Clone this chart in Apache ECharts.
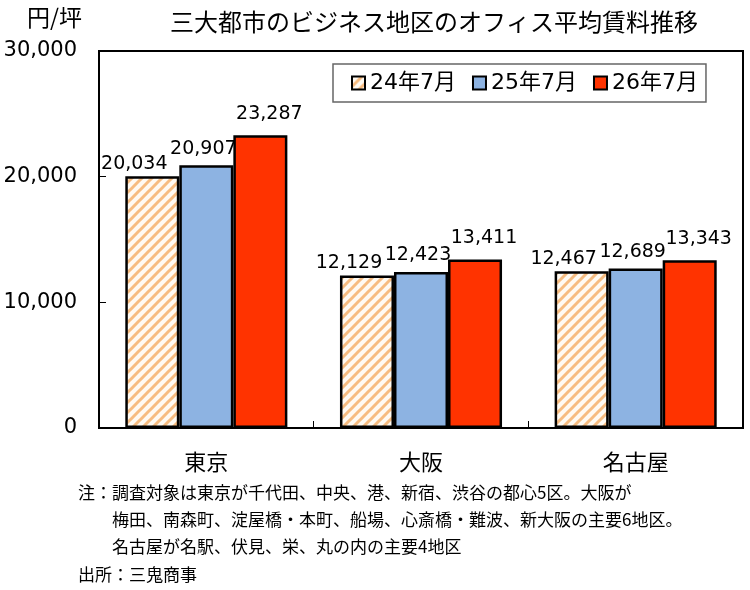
<!DOCTYPE html>
<html lang="ja">
<head>
<meta charset="UTF-8">
<title>三大都市のオフィス平均賃料</title>
<script src="https://cdn.jsdelivr.net/npm/echarts@6/dist/echarts.min.js"></script>
<style>
body {margin: 0; background: #fff;}
#main {width: 750px; height: 590px;}
</style>
</head>
<body>
<div id="main"></div>
<script>
// data
var cities = ['東京', '大阪', '名古屋'];
var periods = ['24年7月', '25年7月', '26年7月'];
var rent2407 = [20034, 12129, 12467];
var rent2507 = [20907, 12423, 12689];
var rent2607 = [23287, 13411, 13343];
var notes = [
    '注：調査対象は東京が千代田、中央、港、新宿、渋谷の都心5区。大阪が',
    '梅田、南森町、淀屋橋・本町、船場、心斎橋・難波、新大阪の主要6地区。',
    '名古屋が名駅、伏見、栄、丸の内の主要4地区',
    '出所：三鬼商事'
];

var FONT = '"DejaVu Sans", "Noto Sans CJK JP", sans-serif';
var CJK = '"Noto Sans CJK JP", sans-serif';

// hatched fill for the first series
var tile = document.createElement('canvas');
tile.width = 10; tile.height = 10;
var g = tile.getContext('2d');
g.fillStyle = '#fffaf2';
g.fillRect(0, 0, 10, 10);
g.strokeStyle = '#f7bc80';
g.lineWidth = 3;
[[0, 10, 10, 0], [-2, 2, 2, -2], [8, 12, 12, 8]].forEach(function (l) {
    g.beginPath(); g.moveTo(l[0], l[1]); g.lineTo(l[2], l[3]); g.stroke();
});
var hatch = {image: tile, repeat: 'repeat'};

var chart = echarts.init(document.getElementById('main'));

function barSeries(name, data, fill, dx, dist) {
    return {
        name: name,
        type: 'bar',
        data: data,
        barGap: 0,
        barCategoryGap: '24.5%',
        animation: false,
        itemStyle: {color: fill, borderColor: '#000', borderWidth: 2.5},
        label: {
            show: true,
            position: 'top',
            distance: dist,
            offset: [dx, 0],
            fontFamily: FONT,
            fontSize: 19,
            color: '#000',
            formatter: function (p) { return p.value.toLocaleString('en-US'); }
        }
    };
}

chart.setOption({
    animation: false,
    title: {
        text: '三大都市のビジネス地区のオフィス平均賃料推移',
        left: 165,
        top: 5,
        textStyle: {fontFamily: CJK, fontSize: 24, fontWeight: 'normal', color: '#000'}
    },
    graphic: [
        {type: 'text', left: 27, top: 6, style: {text: '円/坪', font: '23px ' + CJK, fill: '#000'}},
        {type: 'text', left: 78, top: 484, style: {text: notes[0], font: '17px ' + CJK, fill: '#000'}},
        {type: 'text', left: 112, top: 511, style: {text: notes[1], font: '17px ' + CJK, fill: '#000'}},
        {type: 'text', left: 112, top: 538, style: {text: notes[2], font: '17px ' + CJK, fill: '#000'}},
        {type: 'text', left: 78, top: 566, style: {text: notes[3], font: '17px ' + CJK, fill: '#000'}}
    ],
    legend: {
        data: periods,
        left: 333,
        top: 64,
        padding: [8, 8, 8, 18],
        itemGap: 16,
        itemWidth: 13,
        itemHeight: 13,
        icon: 'rect',
        borderColor: '#666',
        borderWidth: 1.5,
        itemStyle: {borderColor: '#000', borderWidth: 2},
        textStyle: {fontFamily: FONT, fontSize: 22, color: '#000'}
    },
    grid: {
        left: 99, right: 7, top: 51, bottom: 162,
        show: true, borderColor: '#000', borderWidth: 2,
        containLabel: false
    },
    xAxis: {
        type: 'category',
        data: cities,
        axisLine: {lineStyle: {color: '#000', width: 2}},
        axisTick: {show: true, inside: true, length: 7, lineStyle: {color: '#000'}},
        axisLabel: {fontFamily: CJK, fontSize: 22, color: '#000', margin: 23}
    },
    yAxis: {
        type: 'value',
        min: 0,
        max: 30000,
        interval: 10000,
        axisLine: {show: true, lineStyle: {color: '#000', width: 2}},
        axisTick: {show: true, inside: true, length: 7, lineStyle: {color: '#000'}},
        splitLine: {show: false},
        axisLabel: {
            fontFamily: FONT, fontSize: 21, color: '#000', margin: 22,
            formatter: function (v) { return v.toLocaleString('en-US'); }
        }
    },
    series: [
        barSeries(periods[0], rent2407, hatch, -18, 3),
        barSeries(periods[1], rent2507, '#8db3e2', -3, 7),
        barSeries(periods[2], rent2607, '#ff3300', 9, 12)
    ]
});
</script>
</body>
</html>
